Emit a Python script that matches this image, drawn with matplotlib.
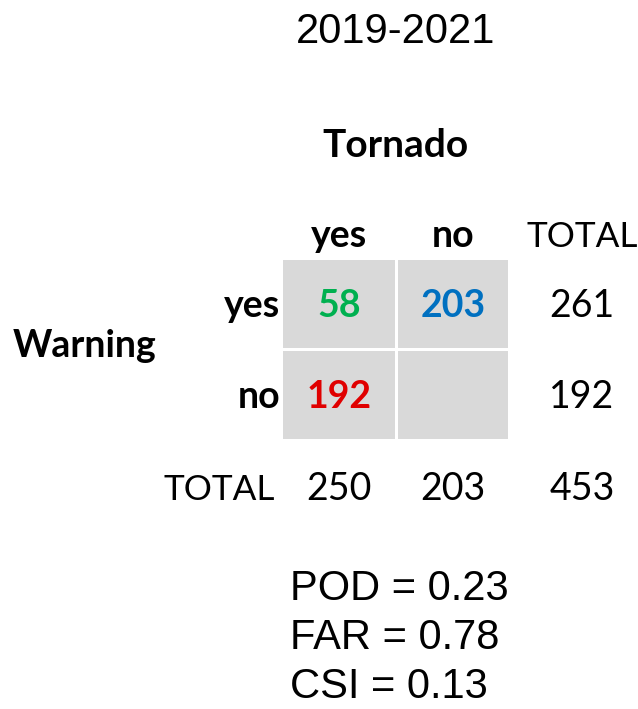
import matplotlib
matplotlib.use('Agg')
import matplotlib.pyplot as plt
from matplotlib.patches import Rectangle

# data
title = '2019-2021'
col_labels = ['yes', 'no']
row_labels = ['yes', 'no']
counts = [[58, 203], [192, None]]
count_colors = [['#00B050', '#0070C0'], ['#E00000', None]]
row_totals = [261, 192]
col_totals = [250, 203]
grand_total = 453
metric_names = ['POD', 'FAR', 'CSI']
metric_values = [0.23, 0.78, 0.13]

W, H = 638, 709
fig = plt.figure(figsize=(W / 100, H / 100), dpi=100)
ax = fig.add_axes([0, 0, 1, 1])
ax.set_xlim(0, W)
ax.set_ylim(H, 0)
ax.axis('off')

head = dict(family='Lato', weight='bold', size=27, color='black')
norm = dict(family='Lato', size=27, color='black')
total_font = dict(family='Lato', size=25.3, color='black')
arial = dict(family='Liberation Sans', size=30, color='black')

# grid layout (pixels)
col_x = [339, 453]
col_edges = [(283, 395), (398, 508)]
row_y = [317, 408]
row_edges = [(260, 348), (351, 439)]
tot_x = 582
hdr_y = 247
tot_y = 500

ax.text(396, 43, title, ha='center', va='baseline', **arial)
ax.text(395, 157, 'Tornado', ha='center', va='baseline', size=28,
        family='Lato', weight='bold')
ax.text(13, 357, 'Warning', ha='left', va='baseline', **head)

for j, lab in enumerate(col_labels):
    ax.text(col_x[j], hdr_y, lab, ha='center', va='baseline', **head)
ax.text(tot_x, hdr_y, 'TOTAL', ha='center', va='baseline', **total_font)

for i, lab in enumerate(row_labels):
    ax.text(280, row_y[i], lab, ha='right', va='baseline', **head)
    for j in range(2):
        x0, x1 = col_edges[j]
        y0, y1 = row_edges[i]
        ax.add_patch(Rectangle((x0, y0), x1 - x0, y1 - y0, color='#d9d9d9', lw=0))
        if counts[i][j] is not None:
            ax.text(col_x[j], row_y[i], str(counts[i][j]), ha='center', va='baseline',
                    family='Lato', weight='bold', size=27, color=count_colors[i][j])
    ax.text(tot_x, row_y[i], str(row_totals[i]), ha='center', va='baseline', **norm)

ax.text(275, tot_y, 'TOTAL', ha='right', va='baseline', **total_font)
for j, v in enumerate(col_totals):
    ax.text(col_x[j], tot_y, str(v), ha='center', va='baseline', **norm)
ax.text(tot_x, tot_y, str(grand_total), ha='center', va='baseline', **norm)

for k, (name, val) in enumerate(zip(metric_names, metric_values)):
    ax.text(290, 600 + 49 * k, f'{name} = {val:.2f}', ha='left', va='baseline', **arial)

fig.savefig('out.png', dpi=100)
